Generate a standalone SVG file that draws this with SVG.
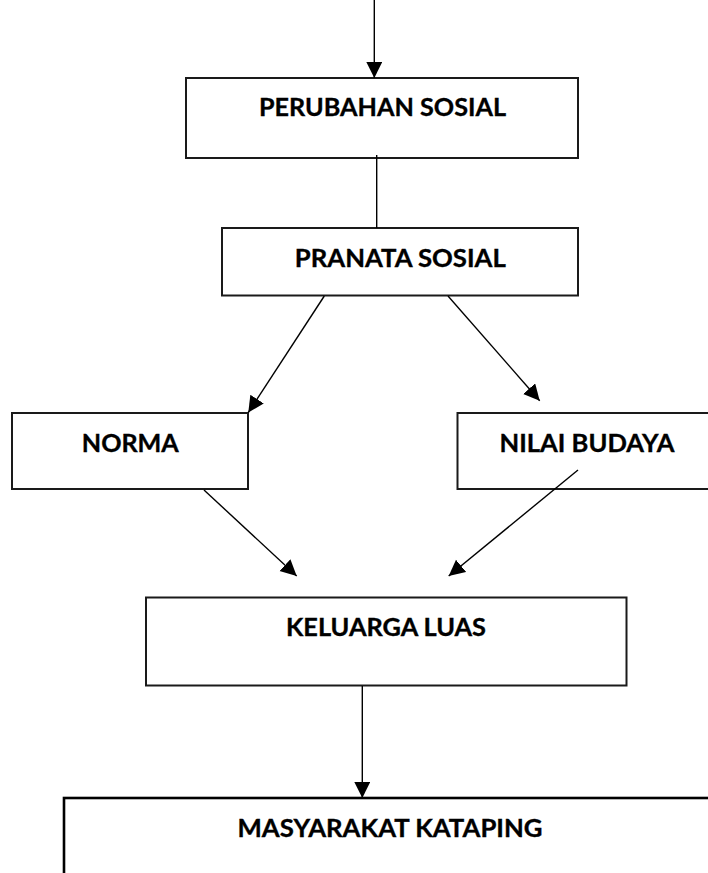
<svg xmlns="http://www.w3.org/2000/svg" width="708" height="873" viewBox="0 0 708 873">
<style>
.box{fill:#fff;stroke:#1a1a1a;stroke-width:2}
.lbl{font-family:Lato,"Open Sans","Liberation Sans",sans-serif;font-weight:bold;font-size:25.5px;fill:#000;text-anchor:middle;stroke:#000;stroke-width:0.35}
.con{stroke:#000;stroke-width:1.4;fill:none}
</style>
<defs>
<marker id="ah" markerUnits="userSpaceOnUse" markerWidth="17" markerHeight="17" refX="16" refY="8" orient="auto" viewBox="0 0 17 17">
<path d="M0,0 L16,8 L0,16 z" fill="#000"/>
</marker>
</defs>
<rect width="708" height="873" fill="#fff"/>
<g id="n-perubahan"><rect class="box" x="186" y="78" width="392" height="80"/><text class="lbl" x="382.5" y="116" textLength="247" lengthAdjust="spacingAndGlyphs">PERUBAHAN SOSIAL</text></g>
<g id="n-pranata"><rect class="box" x="222" y="228" width="356" height="67.5"/><text class="lbl" x="400.3" y="266.7" textLength="211" lengthAdjust="spacingAndGlyphs">PRANATA SOSIAL</text></g>
<g id="n-norma"><rect class="box" x="12" y="413" width="236" height="76"/><text class="lbl" x="130.3" y="451.7" textLength="97" lengthAdjust="spacingAndGlyphs">NORMA</text></g>
<g id="n-nilai"><rect class="box" x="457.5" y="413" width="260" height="76"/><text class="lbl" x="587" y="451.7" textLength="175" lengthAdjust="spacingAndGlyphs">NILAI BUDAYA</text></g>
<g id="n-keluarga"><rect class="box" x="146" y="597.5" width="480.5" height="88"/><text class="lbl" x="386" y="635.7" textLength="200" lengthAdjust="spacingAndGlyphs">KELUARGA LUAS</text></g>
<g id="n-masyarakat"><rect class="box" x="64" y="798" width="660" height="100" style="stroke:#000;stroke-width:2.6"/><text class="lbl" x="390" y="837" textLength="305" lengthAdjust="spacingAndGlyphs">MASYARAKAT KATAPING</text></g>
<g id="connectors">
<line class="con" x1="374.3" y1="0" x2="374.3" y2="78" marker-end="url(#ah)"/>
<line class="con" x1="376.7" y1="155" x2="376.7" y2="228"/>
<line class="con" x1="324.3" y1="296" x2="248.3" y2="412.5" marker-end="url(#ah)"/>
<line class="con" x1="448" y1="296" x2="539.7" y2="400.7" marker-end="url(#ah)"/>
<line class="con" x1="204" y1="490" x2="296.7" y2="576" marker-end="url(#ah)"/>
<line class="con" x1="578" y1="470" x2="448.7" y2="576" marker-end="url(#ah)"/>
<line class="con" x1="362.3" y1="686" x2="362.3" y2="798" marker-end="url(#ah)"/>
</g>
</svg>
